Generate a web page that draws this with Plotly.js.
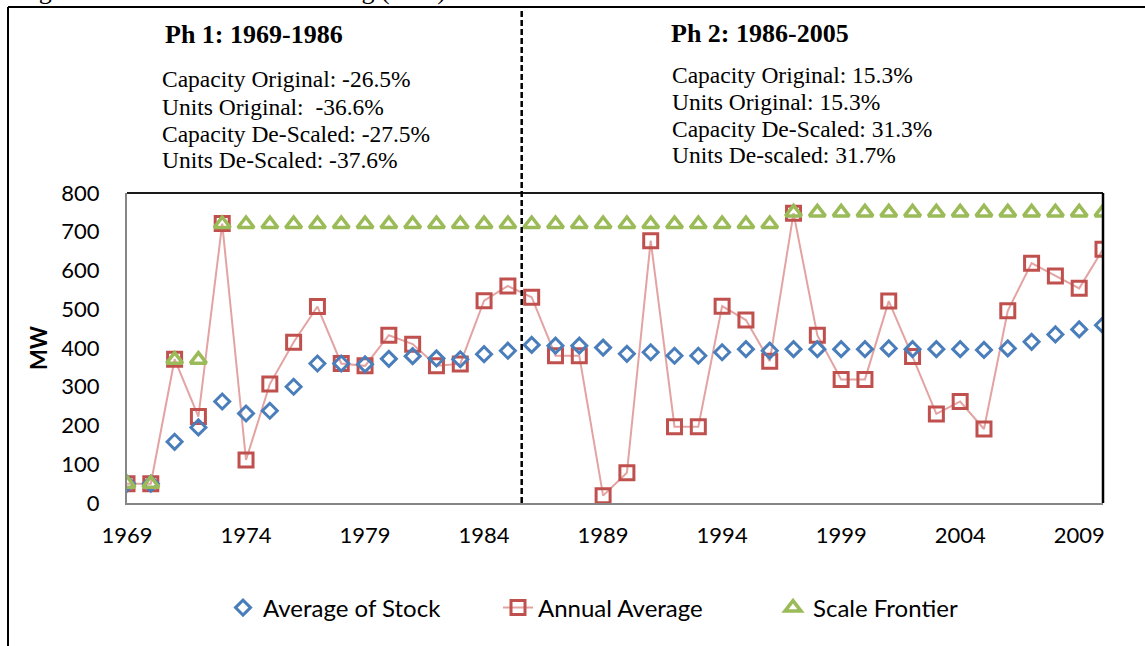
<!DOCTYPE html>
<html>
<head>
<meta charset="utf-8">
<script src="https://cdn.plot.ly/plotly-3.0.1.min.js"></script>
<style>
  html, body { margin: 0; padding: 0; background: #ffffff; }
  #chart { width: 1145px; height: 646px; }
</style>
</head>
<body>
<div id="chart"></div>
<script>
// ---- data ----
var years = [1969,1970,1971,1972,1973,1974,1975,1976,1977,1978,1979,1980,1981,1982,1983,1984,1985,
             1986,1987,1988,1989,1990,1991,1992,1993,1994,1995,1996,1997,1998,1999,2000,2001,2002,
             2003,2004,2005,2006,2007,2008,2009,2010];
var averageOfStock = [50,50,158,195,262,231,238,300,360,360,358,372,379,373,371,384,393,
                      408,406,406,401,385,389,380,380,389,397,393,397,397,397,397,399,397,
                      397,397,395,399,416,435,448,459];
var annualAverage = [50,50,371,223,721,111,307,415,507,360,354,433,410,354,359,522,560,
                     531,380,380,19,78,677,197,197,508,472,366,748,433,319,319,521,378,
                     230,262,191,496,619,586,554,655];
var scaleFrontier = [50,50,370,370,720,720,720,720,720,720,720,720,720,720,720,720,720,
                     720,720,720,720,720,720,720,720,720,720,720,750,750,750,750,750,750,
                     750,750,750,750,750,750,750,750];
var seriesNames = ["Average of Stock", "Annual Average", "Scale Frontier"];
var yTickStep = 100;
var xTickStart = 1969, xTickStep = 5;

var phaseHeaders = ["Ph 1: 1969-1986", "Ph 2: 1986-2005"];
var phase1Lines = ["Capacity Original: -26.5%", "Units Original:&nbsp; -36.6%",
                   "Capacity De-Scaled: -27.5%", "Units De-Scaled: -37.6%"];
var phase2Lines = ["Capacity Original: 15.3%", "Units Original: 15.3%",
                   "Capacity De-Scaled: 31.3%", "Units De-scaled: 31.7%"];
var captionText = "Figure 6: Evolution of Unit Sizing (MW)";

// ---- layout helpers (pixel -> paper) ----
var L = 127, R = 42, T = 193, B = 143, W = 1145, H = 646;
var PW = W - L - R, PH = H - T - B;
function px(x) { return (x - L) / PW; }
function py(y) { return (H - B - y) / PH; }

var serif = "Liberation Serif, Times New Roman, serif";
var sans = "Lato, Carlito, Calibri, sans-serif";

var traces = [
  {
    x: years, y: annualAverage, name: seriesNames[1], type: "scatter", mode: "lines+markers",
    line: { color: "#E3A3A2", width: 2 },
    marker: { symbol: "square-open", size: 14, color: "#C0504D", line: { color: "#C0504D", width: 3 } },
    legendrank: 2, hoverinfo: "x+y"
  },
  {
    x: years, y: averageOfStock, name: seriesNames[0], type: "scatter", mode: "markers",
    marker: { symbol: "diamond-open", size: 11.5, color: "#4A7EBB", line: { color: "#4A7EBB", width: 3 } },
    legendrank: 1, hoverinfo: "x+y"
  },
  {
    x: years, y: scaleFrontier, name: seriesNames[2], type: "scatter", mode: "markers",
    marker: { symbol: "triangle-up-open", size: 14, color: "#9BBB59", line: { color: "#9BBB59", width: 3.5 } },
    legendrank: 3, hoverinfo: "x+y"
  }
];

var annotations = [];
annotations.push({ xref: "paper", yref: "paper", x: px(254), y: py(34), xanchor: "center", yanchor: "middle",
  text: "<b>" + phaseHeaders[0] + "</b>", showarrow: false, font: { family: serif, size: 26, color: "#000" } });
annotations.push({ xref: "paper", yref: "paper", x: px(760), y: py(33), xanchor: "center", yanchor: "middle",
  text: "<b>" + phaseHeaders[1] + "</b>", showarrow: false, font: { family: serif, size: 26, color: "#000" } });
var base1 = [86.7, 115, 141.7, 168.3];
var base2 = [83.3, 110, 136.7, 163.3];
for (var i = 0; i < 4; i++) {
  annotations.push({ xref: "paper", yref: "paper", x: px(160), y: py(base1[i] - 8), xanchor: "left", yanchor: "middle",
    text: phase1Lines[i], showarrow: false, font: { family: serif, size: 23.5, color: "#000" } });
  annotations.push({ xref: "paper", yref: "paper", x: px(670), y: py(base2[i] - 8), xanchor: "left", yanchor: "middle",
    text: phase2Lines[i], showarrow: false, font: { family: serif, size: 23.5, color: "#000" } });
}
annotations.push({ xref: "paper", yref: "paper", x: px(15), y: py(-10), xanchor: "left", yanchor: "middle",
  text: captionText, showarrow: false, font: { family: serif, size: 26, color: "#000" } });

var shapes = [
  // outer frame (left and top)
  { type: "line", xref: "paper", yref: "paper", x0: px(8), x1: px(8), y0: py(7), y1: py(H + 2), line: { color: "#000", width: 2 } },
  { type: "line", xref: "paper", yref: "paper", x0: px(8), x1: px(W + 2), y0: py(7), y1: py(7), line: { color: "#000", width: 2 } },
  // plot area top and right border
  { type: "line", xref: "paper", yref: "paper", x0: 0, x1: 1, y0: 1, y1: 1, line: { color: "#1a1a1a", width: 2 } },
  { type: "line", xref: "paper", yref: "paper", x0: 1, x1: 1, y0: 0, y1: 1, line: { color: "#000", width: 2.5 } },
  // phase divider
  { type: "line", xref: "paper", yref: "paper", x0: px(521.7), x1: px(521.7), y0: 0, y1: py(7), line: { color: "#000", width: 2.5, dash: "6px,3px" } }
];

var layout = {
  width: W, height: H,
  margin: { l: L, r: R, t: T, b: B, pad: 0 },
  paper_bgcolor: "#ffffff", plot_bgcolor: "#ffffff",
  showlegend: true,
  legend: {
    orientation: "h", x: px(223), y: py(608), xanchor: "left", yanchor: "middle",
    font: { family: sans, size: 24, color: "#000" },
    entrywidth: 230, entrywidthmode: "pixels", bgcolor: "rgba(0,0,0,0)"
  },
  xaxis: {
    range: [years[0], years[years.length - 1]], tick0: xTickStart, dtick: xTickStep, tickmode: "linear",
    showgrid: false, zeroline: false, showline: true, linecolor: "#868686", linewidth: 2,
    ticks: "", ticklabelstandoff: 12,
    tickfont: { family: sans, size: 22, color: "#000" }
  },
  yaxis: {
    range: [0, 800], dtick: yTickStep, tick0: 0, tickmode: "linear",
    showgrid: false, zeroline: false, showline: true, linecolor: "#868686", linewidth: 2,
    ticks: "", ticklabelstandoff: 21,
    tickfont: { family: sans, size: 22, color: "#000" },
    title: { text: "<b>MW</b>", font: { family: sans, size: 22, color: "#000" }, standoff: 8 }
  },
  annotations: annotations,
  shapes: shapes
};

Plotly.newPlot("chart", traces, layout, { displayModeBar: false, staticPlot: true });
</script>
</body>
</html>
